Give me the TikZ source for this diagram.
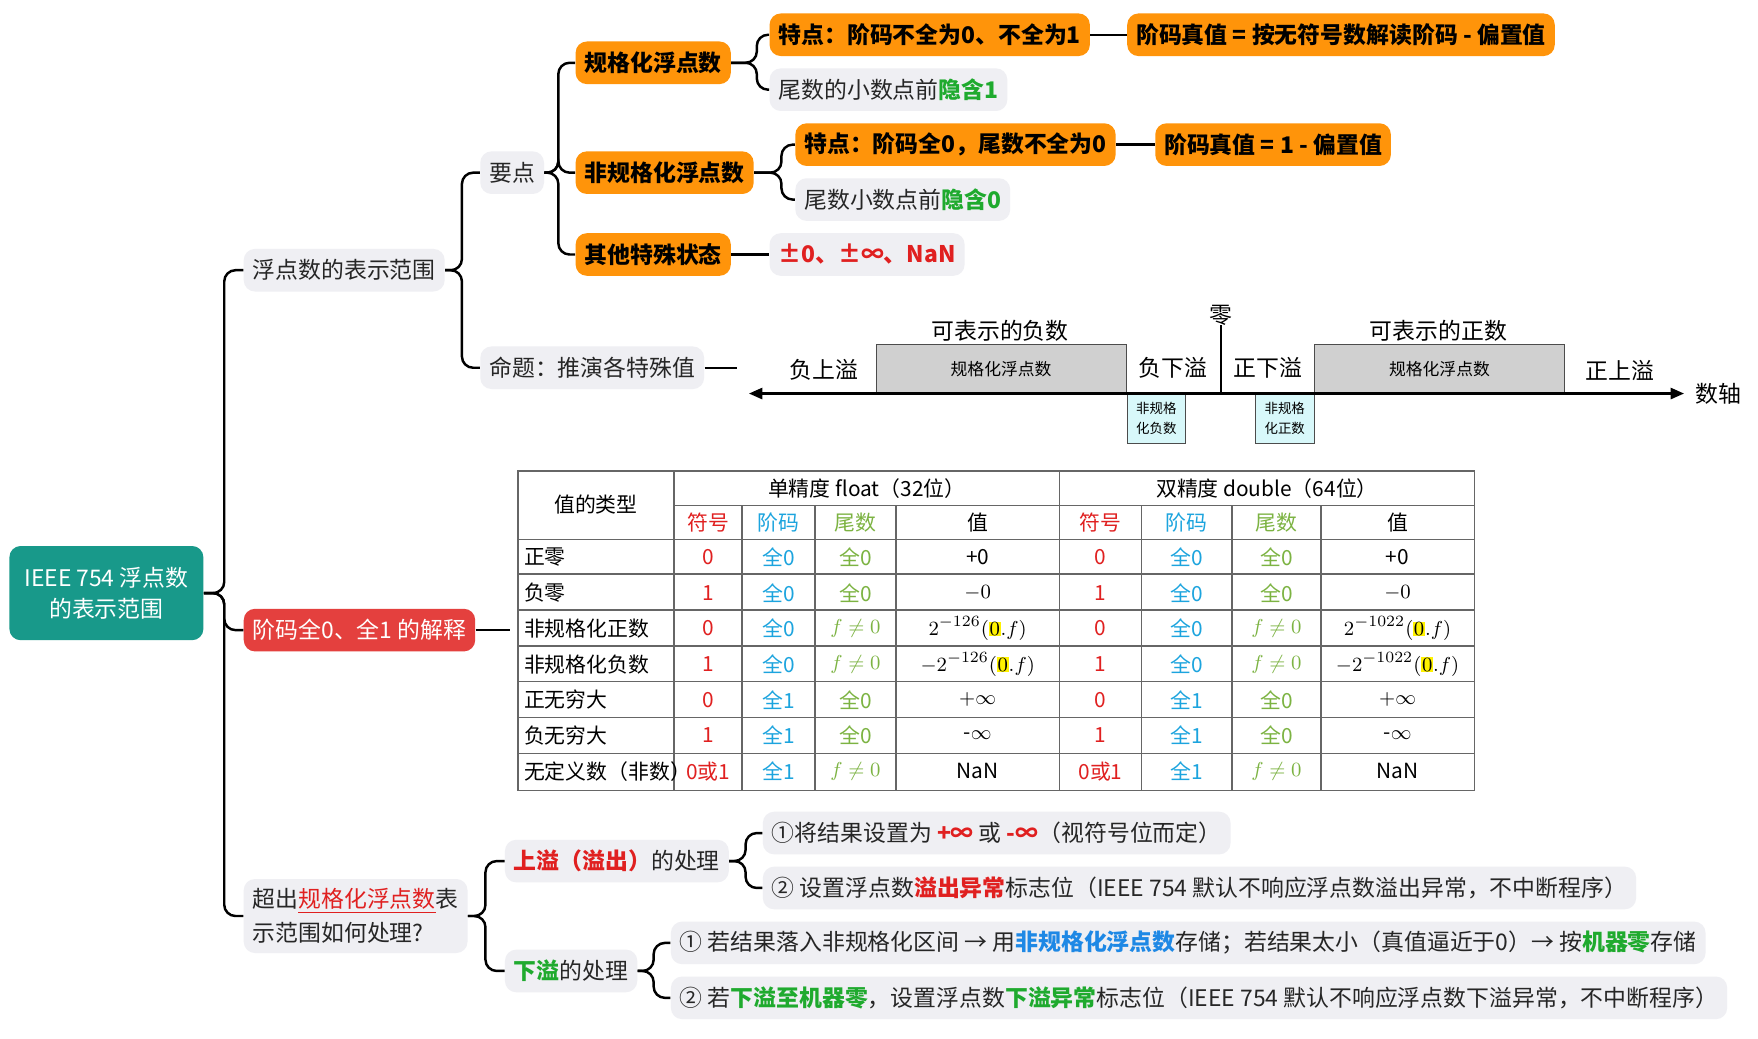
\documentclass[tikz,border=0pt]{standalone}
\usepackage{fontspec}
\setmainfont{Noto Sans CJK SC}
\usetikzlibrary{arrows.meta}
\definecolor{org}{HTML}{FF940A}
\definecolor{gbox}{HTML}{EFEFF3}
\definecolor{rbox}{HTML}{E4403E}
\definecolor{teal}{HTML}{18998A}
\definecolor{grn}{HTML}{1FAA2E}
\definecolor{tgrn}{HTML}{7CB342}
\definecolor{cyn}{HTML}{1CA4DE}
\definecolor{blu}{HTML}{1E88E5}
\definecolor{rd}{HTML}{E02020}
\definecolor{numgray}{HTML}{D0D0D0}
\definecolor{lcyan}{HTML}{D8F8FA}
\newcommand\hl[1]{{\setlength\fboxsep{0.3pt}\colorbox{yellow}{$#1$}}}
\tikzset{
 base/.style={rounded corners=5pt,inner xsep=4pt,minimum height=19pt,anchor=west,font=\fontsize{10.2}{11}\selectfont},
 gnode/.style={base,fill=gbox,text=black!85},
 onode/.style={base,fill=org,text=black,font=\fontsize{10.2}{11}\selectfont\bfseries},
 conn/.style={draw,line width=1.1pt,rounded corners=5pt},
 cell/.style={font=\fontsize{9.3}{10}\selectfont,inner sep=0pt},
 nl/.style={font=\fontsize{10.2}{11}\selectfont,inner sep=0pt},
}
\newcommand\trow[7]{%
 \pgfmathsetmacro\ry{497+(#1-1)*31.8}
 \node[cell,anchor=west] (t#1a) at (467,\ry) {#2};
 \node[cell,text=rd] (t#1b) at (631.5,\ry) {#3};
 \node[cell,text=cyn] (t#1c) at (694.5,\ry) {#4};
 \node[cell,text=tgrn] (t#1d) at (763,\ry) {#5};
 \node[cell] (t#1e) at (872,\ry) {#6};
 \node[cell,text=rd] (t#1f) at (981.5,\ry) {#3};
 \node[cell,text=cyn] (t#1g) at (1058.5,\ry) {#4};
 \node[cell,text=tgrn] (t#1h) at (1138.5,\ry) {#5};
 \node[cell] (t#1i) at (1246.5,\ry) {#7};
}
\begin{document}
\begin{tikzpicture}[x=0.5pt,y=-0.5pt]
\useasboundingbox[fill=white] (0,0) rectangle (1568,926);
\coordinate (v0) at (200,0);
\coordinate (v1) at (412,0);
\coordinate (v2) at (498,0);
\coordinate (v3) at (675,0);
\coordinate (v4) at (697,0);
\coordinate (v5) at (433,0);
\coordinate (v6) at (665,0);
\coordinate (v7) at (583,0);
% root
\node[base,fill=teal,text=white,align=center,minimum width=86.5pt,minimum height=42pt,font=\fontsize{10.2}{14}\selectfont] (root) at (8,529) {IEEE 754 浮点数\\的表示范围};
% level 1
\node[gnode] (fr) at (217,241) {浮点数的表示范围};
\node[base,fill=rbox,text=white] (jm) at (217,562) {阶码全0、全1 的解释};
\node[gnode,align=left,font=\fontsize{10.2}{15}\selectfont,minimum height=33pt] (cc) at (217,817) {超出{\color{rd}\underline{规格化浮点数}}表\\示范围如何处理?};
\foreach \c in {fr,jm,cc} \draw[conn] (root.east) -- (root.east -| v0) |- (\c.west);
% level 2
\node[gnode] (yd) at (428,154) {要点};
\node[gnode] (mt) at (428,328) {命题：推演各特殊值};
\foreach \c in {yd,mt} \draw[conn] (fr.east) -- (fr.east -| v1) |- (\c.west);
\coordinate (mtend) at (657,328);
\draw[line width=1.1pt] (mt.east) -- (mtend);
% level 3
\node[onode] (gg) at (513,56) {规格化浮点数};
\node[onode] (fg) at (513,154) {非规格化浮点数};
\node[onode] (qt) at (513,227) {其他特殊状态};
\foreach \c in {gg,fg,qt} \draw[conn] (yd.east) -- (yd.east -| v2) |- (\c.west);
% level 4
\node[onode] (td1) at (686,31) {特点：阶码不全为0、不全为1};
\node[onode] (zz1) at (1005,31) {阶码真值 = 按无符号数解读阶码 - 偏置值};
\node[gnode] (wy1) at (686,80) {尾数的小数点前{\color{grn}\bfseries 隐含1}};
\foreach \c in {td1,wy1} \draw[conn] (gg.east) -- (gg.east -| v3) |- (\c.west);
\draw[line width=1.1pt] (td1.east) -- (zz1.west);
\node[onode] (td2) at (709,129) {特点：阶码全0，尾数不全为0};
\node[onode] (zz2) at (1030,129) {阶码真值 = 1 - 偏置值};
\node[gnode] (wy2) at (709,178) {尾数小数点前{\color{grn}\bfseries 隐含0}};
\foreach \c in {td2,wy2} \draw[conn] (fg.east) -- (fg.east -| v4) |- (\c.west);
\draw[line width=1.1pt] (td2.east) -- (zz2.west);
\node[gnode,text=rd,font=\fontsize{10.2}{11}\selectfont\bfseries] (ts) at (686,227) {±0、±∞、NaN};
\draw[line width=1.1pt] (qt.east) -- (ts.west);
% number line
\node[draw=black!70,fill=numgray,minimum width=111.5pt,minimum height=21.5pt,inner sep=0pt,font=\fontsize{7.5}{9}\selectfont,anchor=south west] (ng) at (781,351) {规格化浮点数};
\node[draw=black!70,fill=numgray,minimum width=111.5pt,minimum height=21.5pt,inner sep=0pt,font=\fontsize{7.5}{9}\selectfont,anchor=south west] (pg) at (1172,351) {规格化浮点数};
\node[draw=black!70,fill=lcyan,minimum width=26pt,minimum height=22pt,inner sep=0pt,align=center,font=\fontsize{6}{9}\selectfont,anchor=north west] (nd) at (1005,351) {非规格\\化负数};
\node[draw=black!70,fill=lcyan,minimum width=26.5pt,minimum height=22pt,inner sep=0pt,align=center,font=\fontsize{6}{9}\selectfont,anchor=north west] (pd) at (1119,351) {非规格\\化正数};
\coordinate (al) at (668,351);
\coordinate (ar) at (1502,351);
\draw[line width=1pt,{Triangle[length=6pt,width=5pt]}-{Triangle[length=6pt,width=5pt]}] (al) -- (ar);
\coordinate (z0) at (1089,351);
\coordinate (z1) at (1089,290);
\draw[line width=1pt] (z0) -- (z1);
\node[nl] (zero) at (1089,281) {零};
\node[nl] (nsy) at (735,330) {负上溢};
\node[nl] (nxy) at (1046,328) {负下溢};
\node[nl] (pxy) at (1131,328) {正下溢};
\node[nl] (psy) at (1445,330) {正上溢};
\node[nl] (kn) at (892,295) {可表示的负数};
\node[nl] (kp) at (1283,295) {可表示的正数};
\node[nl] (sz) at (1533,351) {数轴};
% table
\begin{scope}[draw=black!60,line width=0.7pt]
\draw (462,420) rectangle (1315,705);
\foreach \y in {481,512,544,576,608,640,672} \draw (462,\y) -- (1315,\y);
\draw (601,451) -- (1315,451);
\foreach \x in {601,945} \draw (\x,420) -- (\x,705);
\foreach \x in {662,727,799,1018,1099,1178} \draw (\x,451) -- (\x,705);
\end{scope}
\draw[line width=1.1pt] (jm.east) -- (455,562);
\node[cell] (h0) at (531.5,450) {值的类型};
\node[cell] (h1) at (773,435.5) {单精度 float（32位）};
\node[cell] (h2) at (1130,435.5) {双精度 double（64位）};
\node[cell,text=rd] (h3) at (631.5,466) {符号};
\node[cell,text=cyn] (h4) at (694.5,466) {阶码};
\node[cell,text=tgrn] (h5) at (763,466) {尾数};
\node[cell] (h6) at (872,466) {值};
\node[cell,text=rd] (h7) at (981.5,466) {符号};
\node[cell,text=cyn] (h8) at (1058.5,466) {阶码};
\node[cell,text=tgrn] (h9) at (1138.5,466) {尾数};
\node[cell] (h10) at (1246.5,466) {值};
\trow{1}{正零}{0}{全0}{全0}{+0}{+0}
\trow{2}{负零}{1}{全0}{全0}{$-0$}{$-0$}
\trow{3}{非规格化正数}{0}{全0}{$f\neq0$}{$2^{-126}(\hl{0}.f)$}{$2^{-1022}(\hl{0}.f)$}
\trow{4}{非规格化负数}{1}{全0}{$f\neq0$}{$-2^{-126}(\hl{0}.f)$}{$-2^{-1022}(\hl{0}.f)$}
\trow{5}{正无穷大}{0}{全1}{全0}{$+\infty$}{$+\infty$}
\trow{6}{负无穷大}{1}{全1}{全0}{-$\infty$}{-$\infty$}
\trow{7}{无定义数（非数）}{0或1}{全1}{$f\neq0$}{NaN}{NaN}
% bottom section
\node[gnode] (sy) at (450,768) {{\color{rd}\bfseries 上溢（溢出）}的处理};
\node[gnode] (xy) at (450,866) {{\color{grn}\bfseries 下溢}的处理};
\foreach \c in {sy,xy} \draw[conn] (cc.east) -- (cc.east -| v5) |- (\c.west);
\node[gnode] (s1) at (680,743) {①将结果设置为 {\color{rd}\bfseries +∞} 或 {\color{rd}\bfseries -∞}（视符号位而定）};
\node[gnode] (s2) at (680,792) {② 设置浮点数{\color{rd}\bfseries 溢出异常}标志位（IEEE 754 默认不响应浮点数溢出异常，不中断程序）};
\foreach \c in {s1,s2} \draw[conn] (sy.east) -- (sy.east -| v6) |- (\c.west);
\node[gnode] (x1) at (598,841) {① 若结果落入非规格化区间 → 用{\color{blu}\bfseries 非规格化浮点数}存储；若结果太小（真值逼近于0）→ 按{\color{grn}\bfseries 机器零}存储};
\node[gnode] (x2) at (598,890) {② 若{\color{grn}\bfseries 下溢至机器零}，设置浮点数{\color{grn}\bfseries 下溢异常}标志位（IEEE 754 默认不响应浮点数下溢异常，不中断程序）};
\foreach \c in {x1,x2} \draw[conn] (xy.east) -- (xy.east -| v7) |- (\c.west);
\end{tikzpicture}
\end{document}
